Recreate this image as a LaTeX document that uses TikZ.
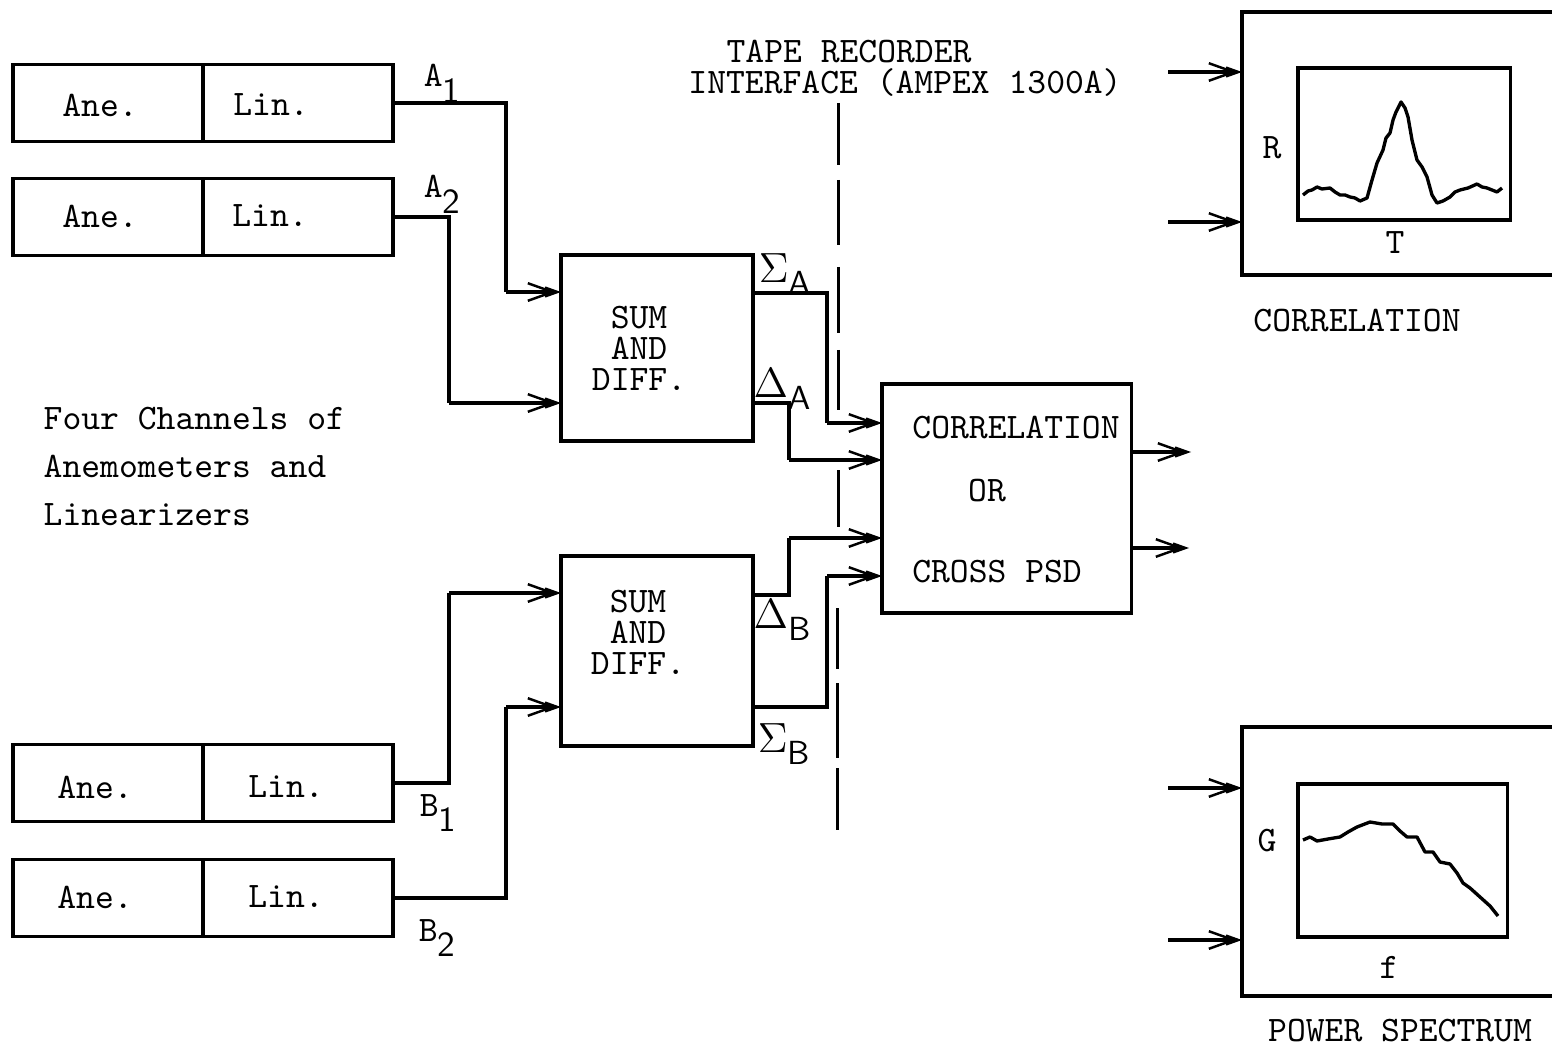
\documentclass[tikz,border=0pt]{standalone}
\usepackage{fontspec}
\usetikzlibrary{arrows.meta, positioning}
\tikzset{
  box/.style={draw, rectangle, inner sep=0pt, line width=0.9pt},
  lab/.style={inner sep=0pt, font=\fontsize{10.2}{12}\selectfont\ttfamily},
  sig/.style={line width=0.9pt},
  sigarrow/.style={sig, -{Straight Barb[length=7pt,width=5pt,line width=0.7pt,sep=-3.5pt]Straight Barb[length=3.5pt,width=2.5pt,line width=0.7pt]}},
  tapeline/.style={line width=0.85pt},
  trace/.style={line width=0.95pt, line join=round}
}
\newcommand{\lowsub}[1]{\raisebox{-4.5pt}{\sffamily\fontsize{10}{12}\selectfont #1}}
\newcommand{\lowsmall}[1]{\raisebox{-3.5pt}{\sffamily\fontsize{9.5}{12}\selectfont #1}}
\newcommand{\bigsym}[1]{\fontsize{11.5}{12}\selectfont$#1$}

\begin{document}
\begin{tikzpicture}[x=0.01cm, y=-0.01cm]
  \useasboundingbox (0,0) rectangle (1552,1046);

  \foreach \n/\yc/\xa/\xl/\ya in {1/103/100/271/105, 2/217/100/270/216, 3/783/95/286/787, 4/898/95/286/897} {
    \node[box, minimum width=1.9cm, minimum height=0.77cm] (ane\n) at (108,\yc) {};
    \node[box, minimum width=1.9cm, minimum height=0.77cm] (lin\n) at (298,\yc) {};
    \node[lab] (anetext\n) at (\xa,\ya) {Ane.};
    \node[lab] (lintext\n) at (\xl,\ya) {Lin.};
  }

  \node[box, minimum width=1.92cm, minimum height=1.86cm] (sumA) at (657,348) {};
  \node[box, minimum width=1.92cm, minimum height=1.90cm] (sumB) at (657,651) {};
  \node[lab, align=center, font=\fontsize{10.2}{8.8}\selectfont\ttfamily] (sumAtext) at (639,348) {SUM\\AND\\DIFF.};
  \node[lab, align=center, font=\fontsize{10.2}{8.8}\selectfont\ttfamily] (sumBtext) at (638,632) {SUM\\AND\\DIFF.};

  \node[box, minimum width=2.49cm, minimum height=2.29cm] (corr) at (1006.5,498.5) {};
  \node[lab] (corrtext) at (1016,428) {CORRELATION};
  \node[lab] (ortext) at (987,491) {OR};
  \node[lab] (psdtext) at (997,572) {CROSS PSD};

  \node[lab] (tape) at (849,52) {TAPE RECORDER};
  \node[lab] (ampex) at (905,83) {INTERFACE (AMPEX 1300A)};
  \node[lab, align=left, anchor=west, font=\fontsize{10.2}{13.66}\selectfont\ttfamily] (channels) at (43,466) {Four Channels of\\Anemometers and\\Linearizers};

  \node[lab] (aone) at (442,83) {A\lowsub{1}};
  \node[lab] (atwo) at (442,194) {A\lowsub{2}};
  \node[lab] (bone) at (438,813) {B\lowsub{1}};
  \node[lab] (btwo) at (437,938) {B\lowsub{2}};
  \node[lab] (sigmaA) at (785,274) {\bigsym{\Sigma}\lowsmall{A}};
  \node[lab] (deltaA) at (782,389) {\bigsym{\Delta}\lowsmall{A}};
  \node[lab] (deltaB) at (782,620) {\bigsym{\Delta}\lowsmall{B}};
  \node[lab] (sigmaB) at (784,744) {\bigsym{\Sigma}\lowsmall{B}};

  \coordinate (sumAin1) at (561,292);
  \coordinate (sumAin2) at (561,403);
  \coordinate (sumBin1) at (561,593);
  \coordinate (sumBin2) at (561,707);
  \coordinate (sumAout1) at (753,293);
  \coordinate (sumAout2) at (753,403);
  \coordinate (sumBout1) at (753,595);
  \coordinate (sumBout2) at (753,707);
  \coordinate (corrin1) at (882,423);
  \coordinate (corrin2) at (882,460);
  \coordinate (corrin3) at (882,538);
  \coordinate (corrin4) at (882,576);
  \coordinate (bendA1) at (506,292);
  \coordinate (bendA2) at (449,403);
  \coordinate (bendB1) at (449,593);
  \coordinate (bendB2) at (506,707);
  \coordinate (bendS1) at (827,423);
  \coordinate (bendD1) at (789,460);
  \coordinate (bendD2) at (789,538);
  \coordinate (bendS2) at (827,576);

  \draw[sig] (lin1.east) -| (bendA1);
  \draw[sigarrow] (bendA1) -- (sumAin1);
  \draw[sig] (lin2.east) -| (bendA2);
  \draw[sigarrow] (bendA2) -- (sumAin2);
  \draw[sig] (lin3.east) -| (bendB1);
  \draw[sigarrow] (bendB1) -- (sumBin1);
  \draw[sig] (lin4.east) -| (bendB2);
  \draw[sigarrow] (bendB2) -- (sumBin2);

  \draw[sig] (sumAout1) -| (bendS1);
  \draw[sigarrow] (bendS1) -- (corrin1);
  \draw[sig] (sumAout2) -| (bendD1);
  \draw[sigarrow] (bendD1) -- (corrin2);
  \draw[sig] (sumBout1) -| (bendD2);
  \draw[sigarrow] (bendD2) -- (corrin3);
  \draw[sig] (sumBout2) -| (bendS2);
  \draw[sigarrow] (bendS2) -- (corrin4);

  \coordinate (corrout1) at (1131,452);
  \coordinate (corrout2) at (1131,548);
  \coordinate (free1) at (1191,452);
  \coordinate (free2) at (1189,548);
  \draw[sigarrow] (corrout1) -- (free1);
  \draw[sigarrow] (corrout2) -- (free2);

  \foreach \ya/\yb in {103/165, 180/245, 267/333, 350/410, 470/527} {
    \draw[tapeline] (838,\ya) -- (838,\yb);
  }
  \foreach \ya/\yb in {608/669, 683/758, 768/830} {
    \draw[tapeline] (837,\ya) -- (837,\yb);
  }

  \draw[box] (1552,12) -- (1242,12) -- (1242,275) -- (1552,275);
  \node[box, minimum width=2.12cm, minimum height=1.52cm] (scopeR) at (1404,144) {};
  \draw[trace] plot coordinates {(1303,195) (1308,191) (1312,190) (1317,187) (1322,189) (1330,188) (1335,192) (1340,195) (1345,195) (1350,197) (1355,198) (1360,201) (1367,198) (1372,180) (1377,163) (1383,150) (1386,138) (1390,133) (1393,120) (1396,112) (1401,102) (1405,108) (1408,117) (1412,140) (1417,160) (1422,167) (1427,177) (1432,195) (1437,203) (1443,201) (1450,197) (1455,192) (1460,190) (1468,188) (1477,184) (1482,187) (1487,188) (1497,192) (1502,188)};
  \node[lab] (rlabel) at (1272,148) {R};
  \node[lab] (tlabel) at (1395,243) {T};
  \node[lab] (corrtitle) at (1357,321) {CORRELATION};

  \draw[box] (1552,727) -- (1242,727) -- (1242,996) -- (1552,996);
  \node[box, minimum width=2.09cm, minimum height=1.53cm] (scopeG) at (1402.5,860.5) {};
  \draw[trace] plot coordinates {(1303,840) (1310,837) (1317,841) (1328,839) (1340,837) (1348,832) (1357,827) (1370,822) (1382,824) (1393,824) (1400,831) (1407,837) (1417,837) (1425,852) (1433,852) (1440,862) (1450,864) (1457,873) (1463,883) (1470,888) (1480,897) (1490,906) (1498,916)};
  \node[lab] (glabel) at (1267,841) {G};
  \node[lab] (flabel) at (1389,967) {f};
  \node[lab] (powertitle) at (1400,1031) {POWER SPECTRUM};

  \coordinate (scopeRin1) at (1242,72);
  \coordinate (scopeRin2) at (1242,222);
  \coordinate (scopeGin1) at (1242,788);
  \coordinate (scopeGin2) at (1242,940);
  \coordinate (tapeR1) at (1168,72);
  \coordinate (tapeR2) at (1168,222);
  \coordinate (tapeG1) at (1168,788);
  \coordinate (tapeG2) at (1168,940);
  \draw[sigarrow] (tapeR1) -- (scopeRin1);
  \draw[sigarrow] (tapeR2) -- (scopeRin2);
  \draw[sigarrow] (tapeG1) -- (scopeGin1);
  \draw[sigarrow] (tapeG2) -- (scopeGin2);
\end{tikzpicture}
\end{document}
